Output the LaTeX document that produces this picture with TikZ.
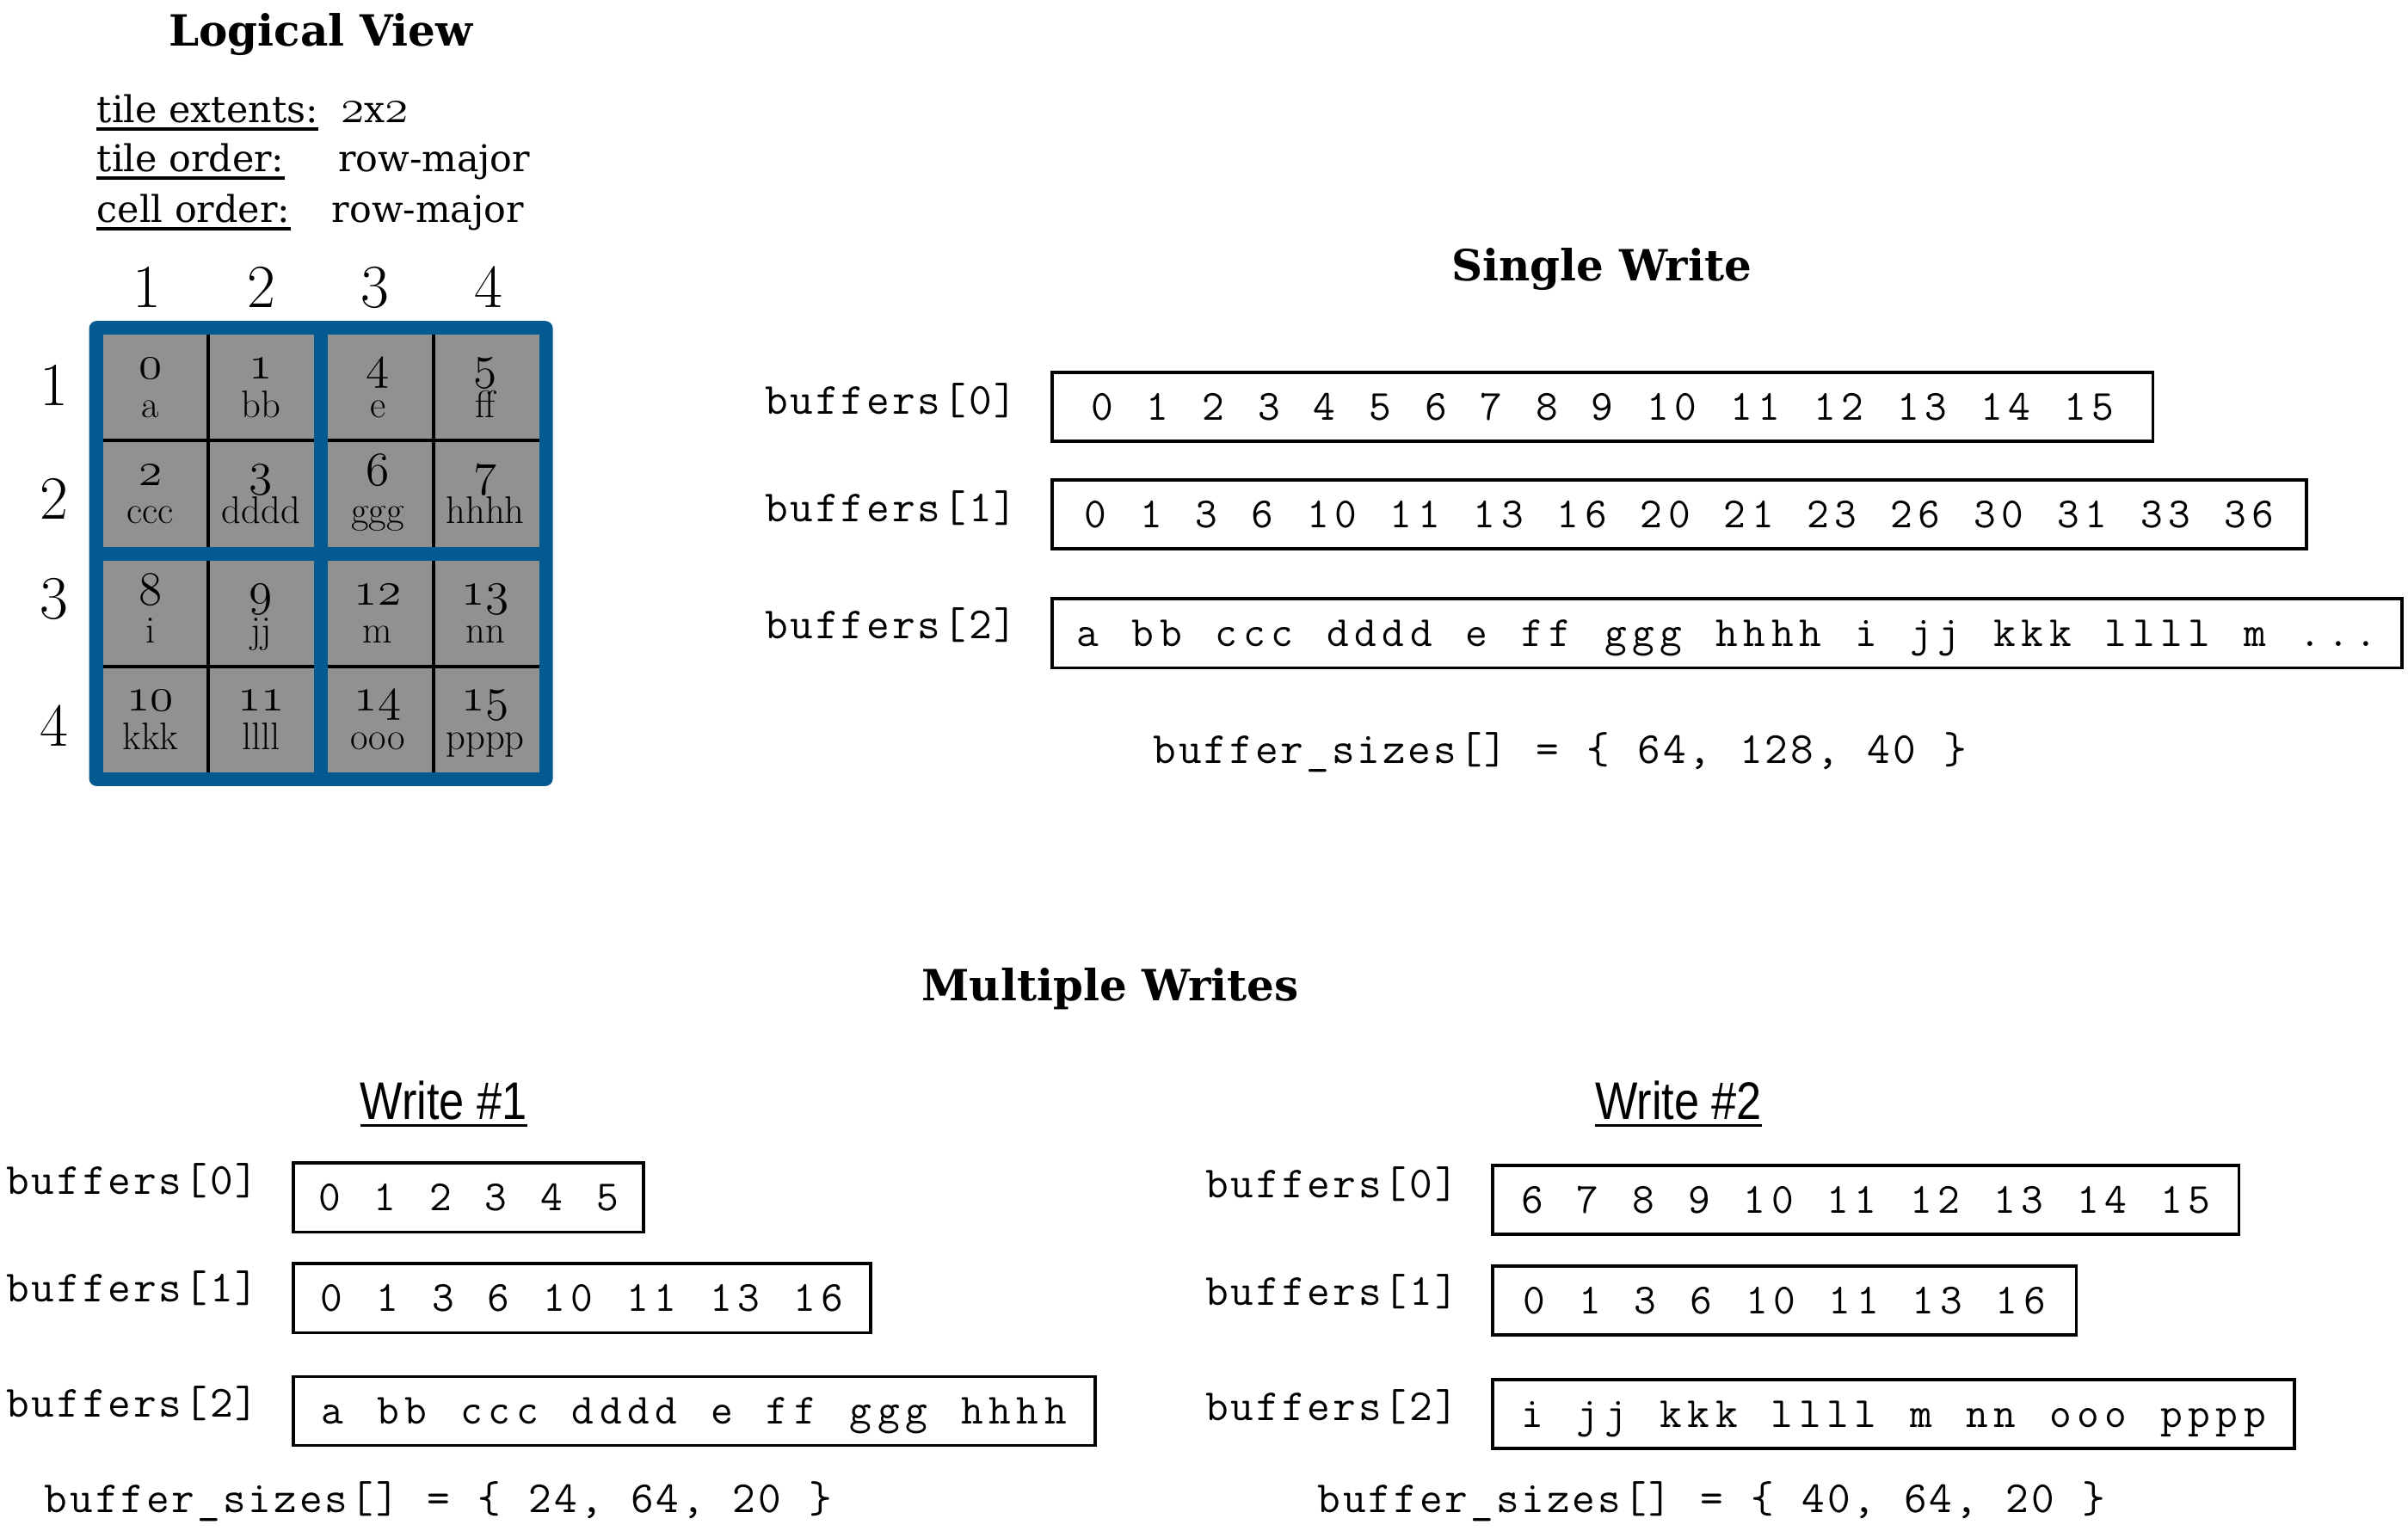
\documentclass[tikz,border=0pt]{standalone}
\usepackage{fontspec}
\usetikzlibrary{calc}
\newfontfamily\serifg{DejaVu Serif}
\newfontfamily\condsans[FakeStretch=0.85]{Liberation Sans}
\definecolor{tileblue}{RGB}{2,90,145}
\definecolor{cellgray}{RGB}{145,145,145}
\newcommand\osn[1]{\scalebox{1.25}{$\mathnormal{#1}$}}
\ExplSyntaxOn
\NewDocumentCommand\spacedtext{mm}{\str_map_inline:nn{#2}{\makebox[#1]{##1}}}
\ExplSyntaxOff
\tikzset{
  titletext/.style={font=\serifg\bfseries\fontsize{28}{33}\selectfont, anchor=base, inner sep=0pt},
  proptext/.style={font=\serifg\fontsize{24}{29}\selectfont, anchor=base west, inner sep=0pt},
  hdrnum/.style={font=\fontsize{40}{48}\selectfont, anchor=base, inner sep=0pt},
  cellnum/.style={font=\fontsize{24.88}{30}\selectfont, anchor=base, inner sep=0pt},
  celltext/.style={font=\fontsize{25}{30}\selectfont, anchor=base, inner sep=0pt},
  buflabel/.style={font=\ttfamily\fontsize{29}{34}\selectfont, anchor=base west, inner sep=0pt},
  bufbox/.style={draw, line width=2pt, font=\ttfamily\fontsize{28}{33}\selectfont, minimum height=45pt,
    text height=17pt, text depth=0pt, inner sep=0pt, anchor=west},
  wtitle/.style={font=\condsans\fontsize{34.5}{40}\selectfont, anchor=base, inner sep=0pt},
  uline/.style={line width=1.8pt}
}
\newcommand\cellat[5]{%
  \node[cellnum] (n#1) at (#2,#3+29) {\osn{#4}};
  \node[celltext] (l#1) at (#2,#3+54) {#5};}
\newcommand\lab[1]{\spacedtext{16.6pt}{#1}}
\newcommand\btx[1]{\spacedtext{18.1pt}{#1}}
\begin{document}
\begin{tikzpicture}[x=1pt,y=-1pt]
\useasboundingbox (0,0) rectangle (1568,997);
\fill[white] (0,0) rectangle (1568,997);

% ---------- Logical view ----------
\node[titletext] (lv) at (209,30) {Logical View};
\node[proptext] (te) at (63,80) {tile extents:};
\node[proptext] (tev) at (222,80) {\osn{2}x\osn{2}};
\node[proptext] (to) at (63,112) {tile order:};
\node[proptext] (tov) at (220,112) {row-major};
\node[proptext] (co) at (63,145) {cell order:};
\node[proptext] (cov) at (216,145) {row-major};
\draw[uline] ($(te.base west)+(0,4)$) -- ($(te.base east)+(0,4)$);
\draw[uline] ($(to.base west)+(0,4)$) -- ($(to.base east)+(0,4)$);
\draw[uline] ($(co.base west)+(0,4)$) -- ($(co.base east)+(0,4)$);

\node[hdrnum] (ch1) at (96,200) {1};
\node[hdrnum] (ch2) at (170,200) {2};
\node[hdrnum] (ch3) at (244,200) {3};
\node[hdrnum] (ch4) at (318,200) {4};
\node[hdrnum] (rh1) at (35,264) {1};
\node[hdrnum] (rh2) at (35,338) {2};
\node[hdrnum] (rh3) at (35,403) {3};
\node[hdrnum] (rh4) at (35,486) {4};

\fill[tileblue, rounded corners=5pt] (58,209) rectangle (360,512);
\fill[cellgray] (67,218) rectangle (204.5,356);
\fill[cellgray] (213.5,218) rectangle (351,356);
\fill[cellgray] (67,365) rectangle (204.5,503);
\fill[cellgray] (213.5,365) rectangle (351,503);
\draw[line width=2.2pt] (135.75,218) -- (135.75,356) (135.75,365) -- (135.75,503)
  (282.25,218) -- (282.25,356) (282.25,365) -- (282.25,503)
  (67,287) -- (204.5,287) (213.5,287) -- (351,287)
  (67,434) -- (204.5,434) (213.5,434) -- (351,434);

\cellat{0}{98}{218}{0}{a}
\cellat{1}{170}{218}{1}{bb}
\cellat{4}{246}{218}{4}{e}
\cellat{5}{316}{218}{5}{ff}
\cellat{2}{98}{287}{2}{ccc}
\cellat{3}{170}{287}{3}{dddd}
\cellat{6}{246}{287}{6}{ggg}
\cellat{7}{316}{287}{7}{hhhh}
\cellat{8}{98}{365}{8}{i}
\cellat{9}{170}{365}{9}{jj}
\cellat{12}{246}{365}{12}{m}
\cellat{13}{316}{365}{13}{nn}
\cellat{10}{98}{434}{10}{kkk}
\cellat{11}{170}{434}{11}{llll}
\cellat{14}{246}{434}{14}{ooo}
\cellat{15}{316}{434}{15}{pppp}

% ---------- Single write ----------
\node[titletext] (sw) at (1043,183) {Single Write};
\node[buflabel] (sl0) at (497,270) {\lab{buffers[0]}};
\node[buflabel] (sl1) at (497,340) {\lab{buffers[1]}};
\node[buflabel] (sl2) at (497,416) {\lab{buffers[2]}};
\node[bufbox, minimum width=717pt] (sb0) at (684,265) {\btx{0 1 2 3 4 5 6 7 8 9 10 11 12 13 14 15}};
\node[bufbox, minimum width=817pt] (sb1) at (684,335) {\btx{0 1 3 6 10 11 13 16 20 21 23 26 30 31 33 36}};
\node[bufbox, minimum width=879pt] (sb2) at (684,412.5) {\btx{a bb ccc dddd e ff ggg hhhh i jj kkk llll m ...}};
\node[buflabel] (ss) at (750,497) {\lab{buffer_sizes[] = { 64, 128, 40 }}};

% ---------- Multiple writes ----------
\node[titletext] (mw) at (723,652) {Multiple Writes};

\node[wtitle] (w1) at (289,729) {Write \#1};
\draw[line width=2.2pt] ($(w1.base west)+(0,4)$) -- ($(w1.base east)+(0,4)$);
\node[buflabel] (al0) at (3,778) {\lab{buffers[0]}};
\node[buflabel] (al1) at (3,848) {\lab{buffers[1]}};
\node[buflabel] (al2) at (3,923) {\lab{buffers[2]}};
\node[bufbox, minimum width=228pt] (ab0) at (190,780) {\btx{0 1 2 3 4 5}};
\node[bufbox, minimum width=376pt] (ab1) at (190,845.5) {\btx{0 1 3 6 10 11 13 16}};
\node[bufbox, minimum width=522pt] (ab2) at (190,919) {\btx{a bb ccc dddd e ff ggg hhhh}};
\node[buflabel] (as) at (28,985) {\lab{buffer_sizes[] = { 24, 64, 20 }}};

\node[wtitle] (w2) at (1093,729) {Write \#2};
\draw[line width=2.2pt] ($(w2.base west)+(0,4)$) -- ($(w2.base east)+(0,4)$);
\node[buflabel] (bl0) at (784,780) {\lab{buffers[0]}};
\node[buflabel] (bl1) at (784,850) {\lab{buffers[1]}};
\node[buflabel] (bl2) at (784,925) {\lab{buffers[2]}};
\node[bufbox, minimum width=486pt] (bb0) at (971,781.5) {\btx{6 7 8 9 10 11 12 13 14 15}};
\node[bufbox, minimum width=380pt] (bb1) at (971,847) {\btx{0 1 3 6 10 11 13 16}};
\node[bufbox, minimum width=522pt] (bb2) at (971,921) {\btx{i jj kkk llll m nn ooo pppp}};
\node[buflabel] (bs) at (857,985) {\lab{buffer_sizes[] = { 40, 64, 20 }}};
\end{tikzpicture}
\end{document}
